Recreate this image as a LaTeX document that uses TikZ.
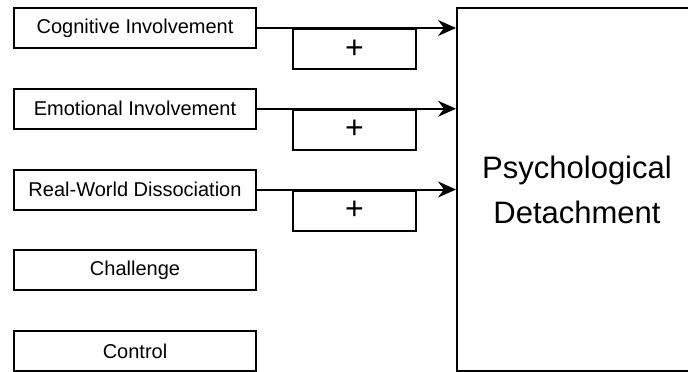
\documentclass[tikz,border=0pt]{standalone}
\usepackage{fontspec}
\setmainfont{Liberation Sans}
\usepackage{tikz}
\usetikzlibrary{arrows.meta}

\begin{document}
\begin{tikzpicture}[x = 1pt, y = -1pt, every node/.style = {draw = black, shape = rectangle, line width = 2pt, inner sep = 0pt, minimum width = 242pt, minimum height = 40pt, font = \fontsize{20}{24}\selectfont}]
	\clip (0,0) rectangle (688,372);
	\node (CI) at (135, 28) {Cognitive Involvement};
	\node (EI) at (135, 108.75) {Emotional Involvement};
	\node (RD) at (135, 189.5) {Real-World Dissociation};
	\node (CH) at (135, 270.25) {Challenge};
	\node (CO) at (135, 351) {Control};
	\node[minimum width = 123pt, font = \fontsize{32}{32}\selectfont] (P1) at (354.5, 49) {+};
	\node[minimum width = 123pt, font = \fontsize{32}{32}\selectfont] (P2) at (354.5, 129.75) {+};
	\node[minimum width = 123pt, font = \fontsize{32}{32}\selectfont] (P3) at (354.5, 210.5) {+};
	\node[minimum width = 240pt, minimum height = 363pt, align = center, font = \fontsize{31}{45}\selectfont] (PD) at (577, 189.5) {Psychological\\Detachment};
	\draw[-{Stealth[length = 18pt, width = 16pt, inset = 6pt]}, line width = 2pt] (CI.east) -- (CI.east -| PD.west);
	\draw[-{Stealth[length = 18pt, width = 16pt, inset = 6pt]}, line width = 2pt] (EI.east) -- (EI.east -| PD.west);
	\draw[-{Stealth[length = 18pt, width = 16pt, inset = 6pt]}, line width = 2pt] (RD.east) -- (RD.east -| PD.west);
\end{tikzpicture}
\end{document}
